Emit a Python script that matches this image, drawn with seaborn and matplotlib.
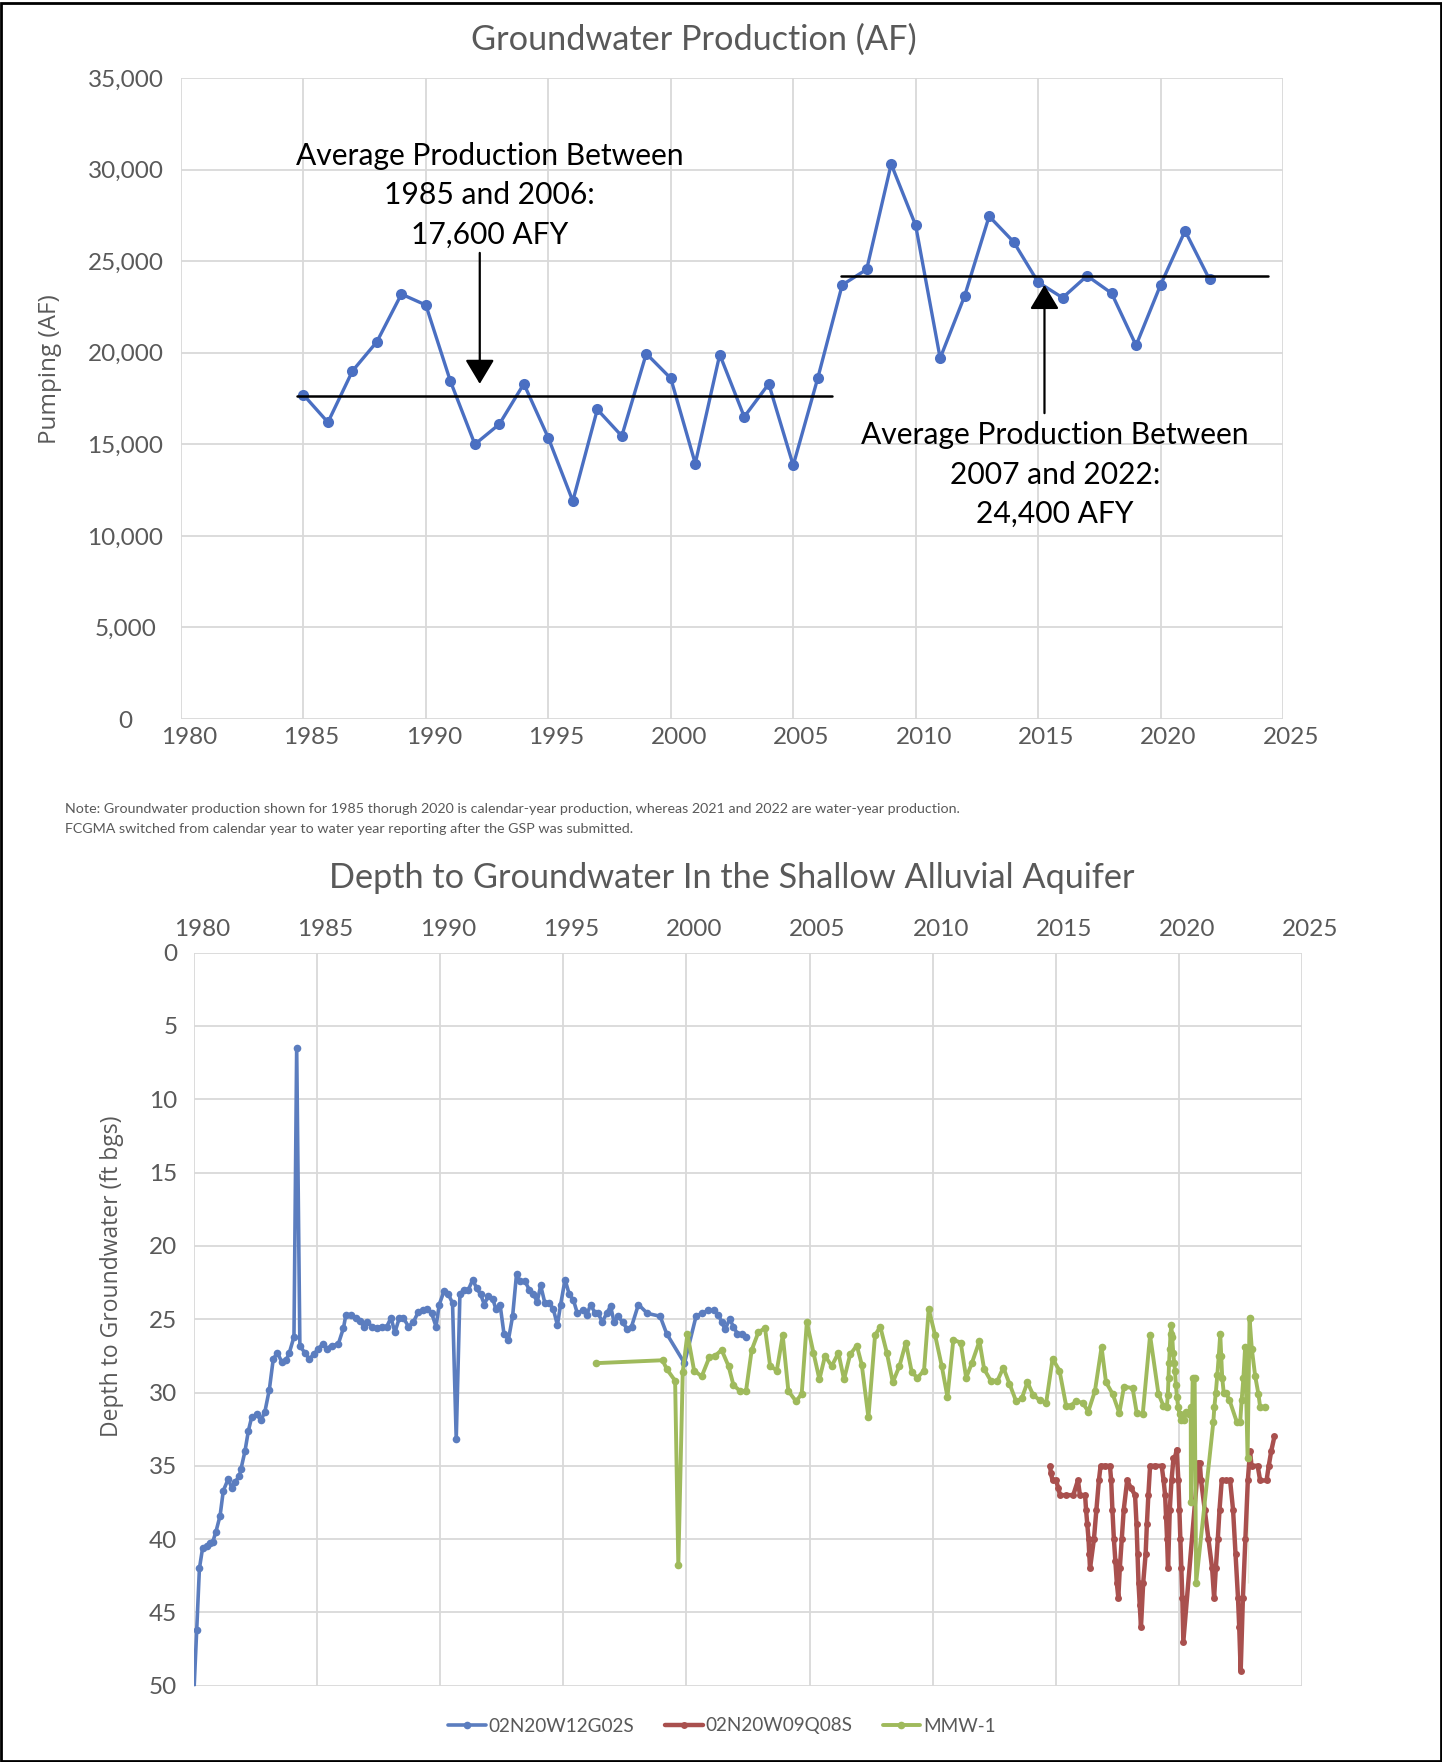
import numpy as np
import pandas as pd
import matplotlib
matplotlib.use("Agg")
import matplotlib.pyplot as plt
import seaborn as sns
from matplotlib.patches import Rectangle
from matplotlib.ticker import FuncFormatter
from matplotlib.transforms import ScaledTranslation

# ============================================
# DATA
# ============================================

# annual groundwater production (AF)
prod_years = list(range(1985, 2023))
prod_values = [17700, 16200, 19000, 20600, 23200, 22600, 18450, 15000, 16100, 18300,
               15350, 11900, 16900, 15450, 19950, 18600, 13950, 19900, 16500, 18300,
               13850, 18600, 23700, 24550, 30300, 26950, 19700, 23100, 27450, 26050,
               23850, 23000, 24200, 23250, 20400, 23700, 26650, 24000]

# average lines (start year, end year, level as drawn)
avg_start = [1984.74, 2006.95]
avg_end = [2006.6, 2024.4]
avg_level = [17650, 24200]

# annotation texts
note_lines = [
    "Note: Groundwater production shown for 1985 thorugh 2020 is calendar-year production, whereas 2021 and 2022 are water-year production.",
    "FCGMA switched from calendar year to water year reporting after the GSP was submitted.",
]

# well 02N20W12G02S
blue_x = [1980.0, 1980.11, 1980.22, 1980.35, 1980.51, 1980.65, 1980.76, 1980.89, 1981.06, 1981.19,
          1981.39, 1981.53, 1981.67, 1981.84, 1981.91, 1982.07, 1982.21, 1982.34, 1982.55, 1982.72,
          1982.88, 1983.06, 1983.22, 1983.39, 1983.56, 1983.74, 1983.87, 1984.06, 1984.17, 1984.30,
          1984.50, 1984.68, 1984.87, 1985.05, 1985.23, 1985.39, 1985.59, 1985.86, 1986.07, 1986.17,
          1986.36, 1986.57, 1986.74, 1986.90, 1987.04, 1987.22, 1987.42, 1987.62, 1987.83, 1988.00,
          1988.16, 1988.34, 1988.50, 1988.71, 1988.91, 1989.11, 1989.31, 1989.48, 1989.65, 1989.83,
          1989.96, 1990.15, 1990.33, 1990.50, 1990.65, 1990.80, 1990.96, 1991.14, 1991.32, 1991.48,
          1991.64, 1991.79, 1991.95, 1992.13, 1992.26, 1992.43, 1992.59, 1992.77, 1992.94, 1993.10,
          1993.24, 1993.44, 1993.62, 1993.78, 1993.94, 1994.08, 1994.25, 1994.43, 1994.59, 1994.76,
          1994.89, 1995.07, 1995.24, 1995.41, 1995.57, 1995.78, 1995.95, 1996.11, 1996.29, 1996.42,
          1996.58, 1996.76, 1996.92, 1997.06, 1997.23, 1997.41, 1997.60, 1997.77, 1998.05, 1998.41,
          1998.93, 1999.20, 1999.92, 2000.39, 2000.62, 2000.89, 2001.10, 2001.30, 2001.43, 2001.57,
          2001.75, 2001.91, 2002.07, 2002.25, 2002.42]
blue_y = [50.3, 46.2, 42.0, 40.6, 40.5, 40.3, 40.2, 39.5, 38.4, 36.7,
          35.9, 36.5, 36.1, 35.7, 35.2, 34.0, 32.6, 31.7, 31.5, 31.9,
          31.3, 29.8, 27.7, 27.3, 27.9, 27.8, 27.3, 26.2, 6.5, 26.8,
          27.3, 27.7, 27.4, 27.0, 26.7, 27.0, 26.8, 26.7, 25.6, 24.7,
          24.7, 24.9, 25.1, 25.5, 25.2, 25.5, 25.6, 25.5, 25.5, 24.9,
          25.9, 24.9, 24.9, 25.5, 25.2, 24.5, 24.4, 24.3, 24.6, 25.5,
          24.0, 23.1, 23.3, 23.9, 33.2, 23.3, 23.0, 23.0, 22.3, 22.9,
          23.3, 24.0, 23.4, 23.6, 24.3, 24.0, 26.0, 26.4, 24.8, 21.9,
          22.4, 22.4, 23.0, 23.3, 23.8, 22.7, 23.9, 23.9, 24.3, 25.4,
          24.0, 22.3, 23.3, 23.7, 24.6, 24.4, 24.7, 24.0, 24.6, 24.6,
          25.2, 24.6, 24.1, 25.2, 24.8, 25.2, 25.7, 25.5, 24.0, 24.6,
          24.8, 26.0, 28.0, 24.8, 24.6, 24.4, 24.4, 24.7, 25.2, 25.7,
          25.0, 25.5, 26.0, 26.0, 26.2]

# well 02N20W09Q08S
red_x = [2014.77, 2014.80, 2014.87, 2015.01, 2015.10, 2015.17, 2015.40, 2015.71, 2015.90, 2015.98,
         2016.19, 2016.23, 2016.28, 2016.33, 2016.36, 2016.39, 2016.55, 2016.65, 2016.75, 2016.82,
         2017.00, 2017.20, 2017.25, 2017.30, 2017.36, 2017.42, 2017.48, 2017.54, 2017.60, 2017.68,
         2017.76, 2017.90, 2018.05, 2018.22, 2018.28, 2018.32, 2018.36, 2018.41, 2018.46, 2018.55,
         2018.65, 2018.70, 2018.76, 2018.83, 2019.05, 2019.30, 2019.38, 2019.44, 2019.48, 2019.52,
         2019.56, 2019.63, 2019.70, 2019.78, 2019.85, 2019.91, 2019.98, 2020.02, 2020.06, 2020.10,
         2020.14, 2020.18, 2020.79, 2020.85, 2020.90, 2021.05, 2021.20, 2021.35, 2021.43, 2021.50,
         2021.58, 2021.65, 2021.74, 2021.90, 2022.08, 2022.20, 2022.30, 2022.40, 2022.45, 2022.51,
         2022.60, 2022.70, 2022.80, 2022.89, 2022.95, 2023.20, 2023.30, 2023.56, 2023.65, 2023.75,
         2023.88]
red_y = [35.0, 35.5, 36.0, 36.0, 36.5, 37.0, 37.0, 37.0, 36.0, 37.0,
         37.0, 38.0, 39.0, 40.0, 41.0, 42.0, 40.0, 38.0, 36.0, 35.0,
         35.0, 35.0, 36.0, 38.0, 40.0, 41.5, 43.0, 44.0, 42.0, 40.0,
         38.0, 36.0, 36.5, 37.0, 39.0, 41.0, 43.0, 44.5, 46.0, 43.0,
         41.0, 39.0, 37.0, 35.0, 35.0, 35.0, 36.0, 37.0, 38.5, 40.0,
         42.0, 38.0, 36.0, 34.5, 34.4, 33.9, 36.0, 38.0, 40.0, 42.0,
         44.0, 47.0, 34.8, 34.8, 36.0, 38.0, 40.0, 42.0, 44.0, 42.0,
         40.0, 38.0, 36.0, 36.0, 36.0, 38.0, 41.0, 44.0, 46.0, 49.0,
         44.0, 40.0, 36.0, 34.0, 35.0, 35.0, 36.0, 36.0, 35.0, 34.0,
         33.0]

# well MMW-1
green_x = [1996.31, 1999.03, 1999.20, 1999.54, 1999.67, 1999.85, 2000.04, 2000.31, 2000.62, 2000.93,
           2001.16, 2001.43, 2001.71, 2001.91, 2002.18, 2002.42, 2002.65, 2002.92, 2003.19, 2003.40,
           2003.67, 2003.91, 2004.14, 2004.45, 2004.68, 2004.89, 2005.16, 2005.40, 2005.63, 2005.90,
           2006.17, 2006.40, 2006.65, 2006.92, 2007.12, 2007.39, 2007.66, 2007.87, 2008.14, 2008.38,
           2008.65, 2008.91, 2009.15, 2009.38, 2009.65, 2009.84, 2010.10, 2010.37, 2010.60, 2010.84,
           2011.14, 2011.36, 2011.59, 2011.90, 2012.09, 2012.36, 2012.63, 2012.87, 2013.12, 2013.39,
           2013.62, 2013.85, 2014.09, 2014.34, 2014.61, 2014.87, 2015.15, 2015.42, 2015.61, 2015.82,
           2016.09, 2016.32, 2016.59, 2016.86, 2017.04, 2017.31, 2017.58, 2017.77, 2018.12, 2018.29,
           2018.53, 2018.83, 2019.17, 2019.37, 2019.51, 2019.55, 2019.58, 2019.60, 2019.63, 2019.66,
           2019.69, 2019.73, 2019.77, 2019.81, 2019.84, 2019.88, 2019.92, 2019.97, 2020.03, 2020.10,
           2020.20, 2020.30, 2020.40, 2020.48, 2020.49, 2020.56, 2020.64, 2020.70, 2021.40, 2021.44,
           2021.50, 2021.56, 2021.62, 2021.68, 2021.72, 2021.76, 2021.82, 2021.90, 2022.05, 2022.35,
           2022.49, 2022.55, 2022.62, 2022.69, 2022.79, 2022.79, 2022.87, 2022.96, 2023.10, 2023.23,
           2023.30, 2023.50]
green_y = [28.0, 27.8, 28.4, 29.2, 41.8, 28.6, 26.0, 28.5, 28.9, 27.6,
           27.5, 27.1, 28.2, 29.5, 29.9, 29.9, 27.1, 25.9, 25.6, 28.2,
           28.5, 26.1, 29.9, 30.6, 30.1, 25.2, 27.3, 29.1, 27.5, 28.2,
           27.3, 29.1, 27.4, 26.8, 28.1, 31.7, 26.1, 25.5, 27.3, 29.3,
           28.2, 26.6, 28.6, 29.0, 28.5, 24.3, 26.1, 28.2, 30.3, 26.4,
           26.6, 29.0, 28.0, 26.5, 28.4, 29.2, 29.2, 28.3, 29.4, 30.6,
           30.4, 29.3, 30.2, 30.5, 30.7, 27.7, 28.5, 30.9, 30.9, 30.6,
           30.7, 31.3, 29.9, 26.9, 29.3, 30.1, 31.4, 29.6, 29.7, 31.4,
           31.5, 26.1, 30.1, 30.9, 31.0, 30.2, 29.0, 28.0, 27.0, 26.0,
           25.4, 26.2, 27.3, 28.0, 28.5, 29.5, 30.3, 31.0, 31.5, 31.9,
           31.9, 31.3, 31.5, 31.0, 37.5, 29.0, 29.0, 43.0, 32.0, 31.0,
           30.0, 28.8, 27.5, 26.0, 27.5, 29.0, 30.0, 30.0, 30.5, 32.0,
           32.0, 30.5, 29.0, 26.9, 26.0, 43.0, 24.9, 27.0, 28.9, 30.1,
           31.0, 31.0]

well_names = ["02N20W12G02S", "02N20W09Q08S", "MMW-1"]
well_colors = ["#5B7DBF", "#A9504E", "#9FBA5C"]

# ============================================
# STYLE
# ============================================

sns.set_theme(style="white")
plt.rcParams["font.family"] = ["Lato", "DejaVu Sans"]

GRAY = "#595959"
GRID = "#D9D9D9"
W, H = 1442, 1762

fig = plt.figure(figsize=(W / 100, H / 100), dpi=100)
shift_right = ScaledTranslation(8 / 100, 0, fig.dpi_scale_trans)

# ============================================
# TOP CHART: GROUNDWATER PRODUCTION
# ============================================

ax1 = fig.add_axes([181 / W, 1 - 719 / H, (1283 - 181) / W, (719 - 78) / H])

sns.lineplot(x=prod_years, y=prod_values, ax=ax1, color="#4A6FC2",
             marker="o", markersize=8, markeredgewidth=0, linewidth=2.4)

for x0, x1, lvl in zip(avg_start, avg_end, avg_level):
    ax1.plot([x0, x1], [lvl, lvl], color="black", linewidth=1.8, zorder=4)

ax1.set_xlim(1980, 2025)
ax1.set_ylim(0, 35000)
ax1.set_xticks(range(1980, 2026, 5))
ax1.set_yticks(range(0, 35001, 5000))
ax1.yaxis.set_major_formatter(FuncFormatter(lambda v, p: f"{int(v):,}"))
ax1.grid(True, color=GRID, linewidth=1.3)
for s in ax1.spines.values():
    s.set_visible(False)
ax1.tick_params(axis="both", length=0, labelsize=17.5, labelcolor=GRAY)
ax1.tick_params(axis="y", pad=40)
ax1.tick_params(axis="x", pad=6)
ax1.set_xlabel("")
ax1.set_ylabel("")
for lab in ax1.get_xticklabels():
    lab.set_transform(lab.get_transform() + shift_right)
for lab in ax1.get_yticklabels():
    lab.set_horizontalalignment("center")

arrow_style = dict(arrowstyle="-|>,head_length=0.75,head_width=0.45",
                   color="black", lw=1.6, mutation_scale=20, shrinkA=0, shrinkB=0)
ax1.annotate("", xy=(1992.2, 18300), xytext=(1992.2, 25450), arrowprops=arrow_style)
ax1.annotate("", xy=(2015.26, 23700), xytext=(2015.26, 16700), arrowprops=arrow_style)

ax1.text(1992.6, 28600, "Average Production Between\n1985 and 2006:\n17,600 AFY",
         ha="center", va="center", fontsize=21.6, color="black", linespacing=1.5)
ax1.text(2015.68, 13350, "Average Production Between\n2007 and 2022:\n24,400 AFY",
         ha="center", va="center", fontsize=21.6, color="black", linespacing=1.5)

fig.text(694 / W, 1 - 40 / H, "Groundwater Production (AF)", ha="center", va="center",
         fontsize=24.7, color=GRAY)
fig.text(50 / W, 1 - 369 / H, "Pumping (AF)", rotation=90, ha="center", va="center",
         fontsize=17.5, color=GRAY, family=["Open Sans", "DejaVu Sans"])

for i, line in enumerate(note_lines):
    fig.text(65 / W, 1 - (809 + 20 * i) / H, line, ha="left", va="center",
             fontsize=10.25, color=GRAY)

# ============================================
# BOTTOM CHART: DEPTH TO GROUNDWATER
# ============================================

ax2 = fig.add_axes([194 / W, 1 - 1685.7 / H, 1108 / W, 733 / H])

series = [(blue_x, blue_y, 5.5, 2.6), (red_x, red_y, 5.0, 3.2), (green_x, green_y, 5.5, 2.8)]
for (sx, sy, ms, lw), name, col in zip(series, well_names, well_colors):
    sns.lineplot(x=sx, y=sy, ax=ax2, sort=False, color=col, label=name,
                 marker="o", markersize=ms, markeredgewidth=0, linewidth=lw)

ax2.set_xlim(1980, 2025)
ax2.set_ylim(50, 0)
ax2.set_xticks(range(1980, 2026, 5))
ax2.set_yticks(range(0, 51, 5))
ax2.xaxis.tick_top()
ax2.grid(True, color=GRID, linewidth=1.3)
for s in ax2.spines.values():
    s.set_visible(False)
ax2.tick_params(axis="both", length=0, labelsize=17.5, labelcolor=GRAY)
ax2.tick_params(axis="y", pad=12)
ax2.tick_params(axis="x", pad=9)
ax2.set_xlabel("")
ax2.set_ylabel("")
for lab in ax2.get_xticklabels():
    lab.set_transform(lab.get_transform() + shift_right)

fig.text(732 / W, 1 - 878 / H, "Depth to Groundwater In the Shallow Alluvial Aquifer",
         ha="center", va="center", fontsize=24.7, color=GRAY)
fig.text(112 / W, 1 - 1276 / H, "Depth to Groundwater (ft bgs)", rotation=90,
         ha="center", va="center", fontsize=16.5, color=GRAY,
         family=["Open Sans", "DejaVu Sans"])

leg = ax2.legend(loc="center", bbox_to_anchor=(722 / W, 1 - 1726 / H),
                 bbox_transform=fig.transFigure, ncol=3, frameon=False,
                 fontsize=13.6, handlelength=2.0, columnspacing=1.6, handletextpad=0.15)
for t in leg.get_texts():
    t.set_color(GRAY)

# outer frame
fig.patches.append(Rectangle((0.0008, 0.0008), 0.9984, 0.9975, transform=fig.transFigure,
                             fill=False, edgecolor="black", linewidth=2))

fig.savefig("out.png", dpi=100)
